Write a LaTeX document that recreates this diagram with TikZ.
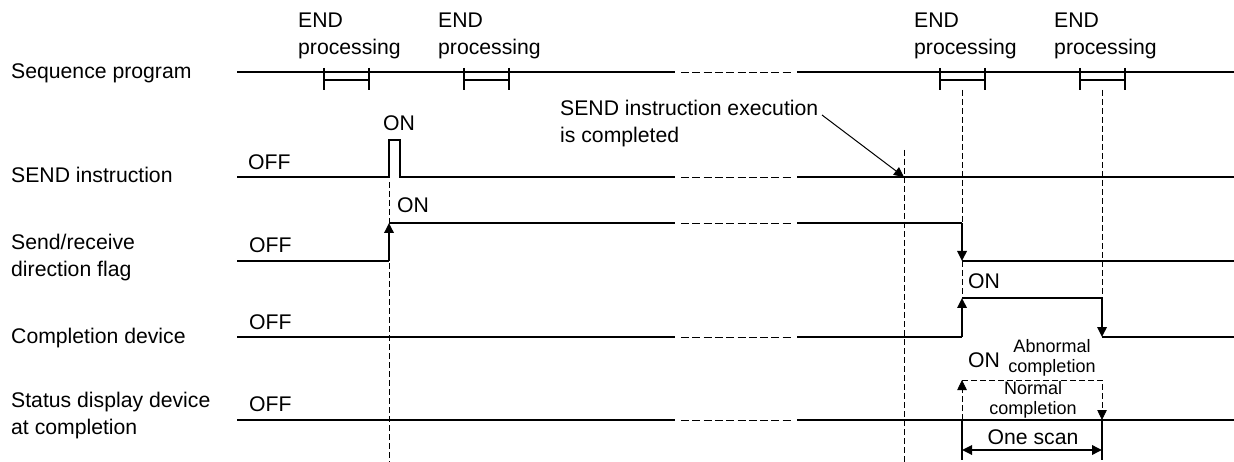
\documentclass[tikz,border=0pt]{standalone}
\usepackage{fontspec}
\setmainfont{Liberation Sans}
\usetikzlibrary{arrows.meta}
\tikzset{
  sig/.style={line width=1.8pt},
  guide/.style={line width=0.8pt,dash pattern=on 6pt off 3pt},
  gap/.style={line width=0.9pt,dash pattern=on 8pt off 3.3pt},
  txt/.style={font=\fontsize{21.2}{27}\selectfont,inner sep=0pt,align=left},
  smalltxt/.style={font=\fontsize{18}{19.5}\selectfont,inner sep=0pt,align=center},
  tip/.style={-{Triangle[length=10pt,width=9.5pt]}},
}
\begin{document}
\begin{tikzpicture}[x=1pt,y=-1pt,line cap=butt,line join=miter]
  \useasboundingbox (0,0) rectangle (1234,462);
  % row labels
  \node[txt,anchor=base west] (lseq) at (11,79) {Sequence program};
  \node[txt,anchor=base west] (lsend) at (11,183) {SEND instruction};
  \node[txt,anchor=base west] (ldir) at (11,277) {Send/receive\\direction flag};
  \node[txt,anchor=base west] (lcomp) at (11,343) {Completion device};
  \node[txt,anchor=base west] (lstat) at (11,434) {Status display device\\at completion};
  % END processing
  \foreach \a/\n in {324/1,464/2,940/3,1080/4} {
    \node[txt,anchor=base west] (end\n) at (\a-26,55) {END\\processing};
    \draw[sig] (\a,68) -- (\a,90) (\a+45,68) -- (\a+45,90) (\a,80) -- (\a+45,80);
  }
  % breaks in the time axis
  \foreach \y in {72,177,223,337,420}
    \draw[gap] (681,\y) -- (792,\y);
  \draw[sig] (237,72) -- (675,72) (797,72) -- (1234,72);
  % guides
  \draw[guide] (389,182) -- (389,462);
  \draw[guide] (904,150) -- (904,462);
  \draw[guide] (962,90) -- (962,298);
  \draw[guide] (1102,90) -- (1102,298);
  % SEND instruction
  \draw[sig] (237,177) -- (389,177) -- (389,140) -- (400,140) -- (400,177) -- (675,177)
    (797,177) -- (1234,177);
  \node[txt,anchor=base west] (off1) at (248,170) {OFF};
  \node[txt,anchor=base] (on1) at (399,131) {ON};
  % direction flag
  \draw[sig] (237,261) -- (389,261);
  \draw[sig,tip] (389,261) -- (389,223);
  \draw[sig] (389,223) -- (675,223) (797,223) -- (962,223);
  \draw[sig,tip] (962,223) -- (962,261);
  \draw[sig] (962,261) -- (1234,261);
  \node[txt,anchor=base west] (off2) at (249,253) {OFF};
  \node[txt,anchor=base west] (on2) at (397,213) {ON};
  % completion device
  \draw[sig] (237,337) -- (675,337) (797,337) -- (962,337);
  \draw[sig,tip] (962,337) -- (962,298);
  \draw[sig] (962,298) -- (1102,298);
  \draw[sig,tip] (1102,298) -- (1102,337);
  \draw[sig] (1102,337) -- (1234,337);
  \node[txt,anchor=base west] (off3) at (249,329) {OFF};
  \node[txt,anchor=base west] (on3) at (968,289) {ON};
  % status display device
  \draw[sig] (237,420) -- (675,420) (797,420) -- (1234,420);
  \draw[guide,tip] (962,420) -- (962,380);
  \draw[guide,tip] (962,380) -- (1102,380) -- (1102,420);
  \node[txt,anchor=base west] (off4) at (249,411) {OFF};
  \node[txt,anchor=base west] (on4) at (968,367) {ON};
  \node[smalltxt,anchor=base] (abn) at (1052,372) {Abnormal\\completion};
  \node[smalltxt,anchor=base] (nrm) at (1033,414) {Normal\\completion};
  % one scan
  \coordinate (s1) at (962,450);
  \coordinate (s2) at (1102,450);
  \draw[sig] (962,420) -- (962,460) (1102,420) -- (1102,460);
  \draw[sig,{Triangle[length=10pt,width=9.5pt]}-{Triangle[length=10pt,width=9.5pt]}] (s1) -- (s2);
  \node[txt,anchor=base] (scan) at (1033,444) {One scan};
  % completion note
  \node[txt,anchor=base west] (note) at (560,143) {SEND instruction execution\\is completed};
  \coordinate (done) at (904,177);
  \draw[line width=1pt,tip] (822,115) -- (done);
\end{tikzpicture}
\end{document}
